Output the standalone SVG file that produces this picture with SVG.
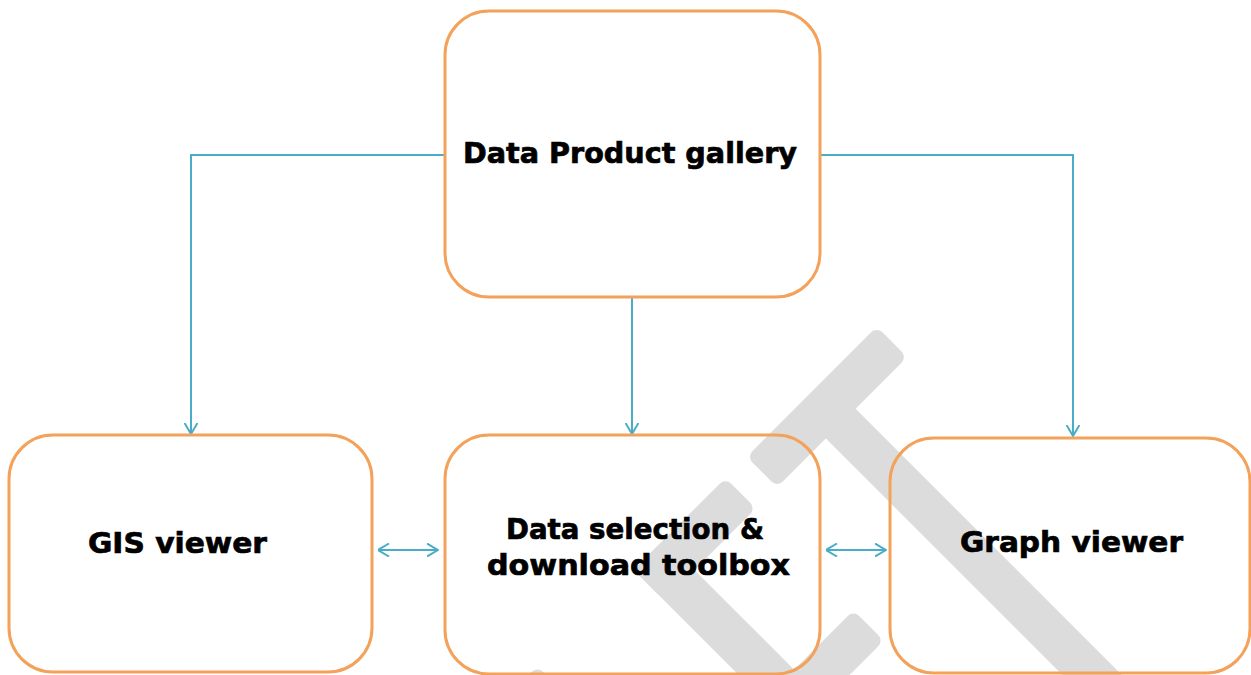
<svg xmlns="http://www.w3.org/2000/svg" width="1251" height="675" viewBox="0 0 1251 675">
  <style>
    .box { fill: none; stroke: #f4a15a; stroke-width: 3; }
    .lbl { font-family: "DejaVu Sans", "Liberation Sans", sans-serif; font-weight: bold; font-size: 29px; fill: #000; stroke: #000; stroke-width: 0.7; text-anchor: middle; }
    .conn { fill: none; stroke: #4bacc6; stroke-width: 2; }
    .wm { fill: #dcdcdc; }
  </style>
  <defs>
    <marker id="arr" viewBox="0 0 12 14" refX="11.5" refY="7" markerWidth="12" markerHeight="14" markerUnits="userSpaceOnUse" orient="auto-start-reverse">
      <path d="M0.5,0.5 L11.5,7 L0.5,13.5" fill="none" stroke="#4bacc6" stroke-width="2"/>
    </marker>
  </defs>
  <rect x="0" y="0" width="1251" height="675" fill="#ffffff"/>
  <g id="watermark" transform="rotate(-45)">
    <rect class="wm" x="205" y="851" width="184" height="43" rx="8"/>
    <rect class="wm" x="274" y="880" width="42" height="450" rx="8"/>
    <rect class="wm" x="45" y="851" width="130" height="43" rx="8"/>
    <rect class="wm" x="45" y="851" width="43" height="227" rx="8"/>
    <rect class="wm" x="45" y="1035" width="127" height="43" rx="8"/>
    <rect class="wm" x="-134" y="851" width="43" height="300" rx="8"/>
  </g>
  <g id="connectors">
    <path class="conn" d="M445,155 H191 V434" marker-end="url(#arr)"/>
    <path class="conn" d="M820,155 H1073 V436" marker-end="url(#arr)"/>
    <path class="conn" d="M632,298 V434" marker-end="url(#arr)"/>
    <path class="conn" d="M378,550 H438" marker-start="url(#arr)" marker-end="url(#arr)"/>
    <path class="conn" d="M826,550 H886" marker-start="url(#arr)" marker-end="url(#arr)"/>
  </g>
  <g id="node-gallery">
    <rect class="box" x="445" y="11" width="375" height="286" rx="44"/>
    <text class="lbl" x="630" y="163" textLength="334" lengthAdjust="spacingAndGlyphs">Data Product gallery</text>
  </g>
  <g id="node-gis">
    <rect class="box" x="9" y="435" width="363" height="237" rx="44"/>
    <text class="lbl" x="177.5" y="553" textLength="179" lengthAdjust="spacingAndGlyphs">GIS viewer</text>
  </g>
  <g id="node-toolbox">
    <rect class="box" x="445" y="435" width="375" height="239" rx="44"/>
    <text class="lbl" x="635" y="539" textLength="258" lengthAdjust="spacingAndGlyphs">Data selection &amp;</text>
    <text class="lbl" x="638.5" y="575" textLength="303" lengthAdjust="spacingAndGlyphs">download toolbox</text>
  </g>
  <g id="node-graph">
    <rect class="box" x="890" y="438" width="360" height="235" rx="44"/>
    <text class="lbl" x="1071.5" y="552" textLength="223" lengthAdjust="spacingAndGlyphs">Graph viewer</text>
  </g>
</svg>
